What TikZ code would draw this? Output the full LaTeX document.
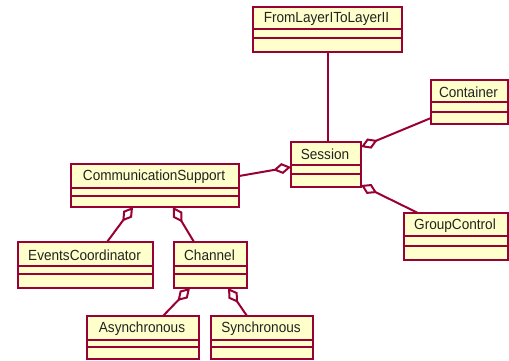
\documentclass[tikz,border=0pt]{standalone}
\usepackage{fontspec}
\setmainfont{Liberation Sans}
\usetikzlibrary{arrows.meta,calc,fit}
\definecolor{umlred}{HTML}{990033}
\definecolor{umlfill}{HTML}{FFFFCC}
\definecolor{umltext}{HTML}{222222}
\tikzset{
  clsbox/.style={draw=umlred, fill=umlfill, line width=2pt, inner sep=0pt, outer sep=0pt},
  clsline/.style={draw=umlred, line width=2pt},
  clstext/.style={font=\fontsize{13.6}{15}\selectfont, text=umltext, inner sep=0pt},
  conn/.style={draw=umlred, line width=2pt},
  agg/.style={conn, -{Diamond[open, length=18pt, width=11pt, fill=white]}}
}
\newcommand\umlclass[8]{%
  \node[clsbox, fit={(#2,#3) (#4,#5)}] (#1) {};
  \draw[clsline] (#2,#6) -- (#4,#6);
  \draw[clsline] (#2,#7) -- (#4,#7);
  \node[clstext] (#1-name) at ({(#2+#4)/2-1},{(#3+#6)/2+0.8}) {\scalebox{1}[1.08]{#8}};
}
\begin{document}
\begin{tikzpicture}[x=1pt,y=-1pt]
\useasboundingbox (0,0) rectangle (509,360);
\umlclass{from}{253}{7}{402}{52}{29}{38}{FromLayerIToLayerII}
\umlclass{sess}{291}{142}{361}{187}{165}{174}{Session}
\umlclass{cont}{431}{80}{508}{124}{102}{112}{Container}
\umlclass{grp}{404}{213}{508}{260}{236}{246}{GroupControl}
\umlclass{comm}{71}{164}{239}{207}{188}{196}{CommunicationSupport}
\umlclass{evt}{18}{242}{153}{288}{266}{274}{EventsCoordinator}
\umlclass{chan}{174}{242}{247}{288}{266}{274}{Channel}
\umlclass{async}{87}{316}{199}{359}{340}{347}{Asynchronous}
\umlclass{sync}{211}{316}{313}{359}{340}{347}{Synchronous}
\draw[conn] (from.south) -- (from.south |- sess.north);
\draw[agg] ($(cont.south west)+(0,-6)$) -- ($(sess.north east)+(0,5)$);
\draw[agg] ($(comm.east)+(0,-9.5)$) -- ($(sess.west)+(0,2.5)$);
\draw[agg] ($(grp.north west)+(14,0)$) -- ($(sess.south east)+(0,-2)$);
\draw[agg] ($(evt.north west)+(89,0)$) -- ($(comm.south west)+(62,0)$);
\draw[agg] ($(chan.north west)+(20,0)$) -- ($(comm.south west)+(102,0)$);
\draw[agg] ($(async.north west)+(76,0)$) -- ($(chan.south west)+(16,0)$);
\draw[agg] ($(sync.north west)+(36,0)$) -- ($(chan.south west)+(54,0)$);
\end{tikzpicture}
\end{document}
